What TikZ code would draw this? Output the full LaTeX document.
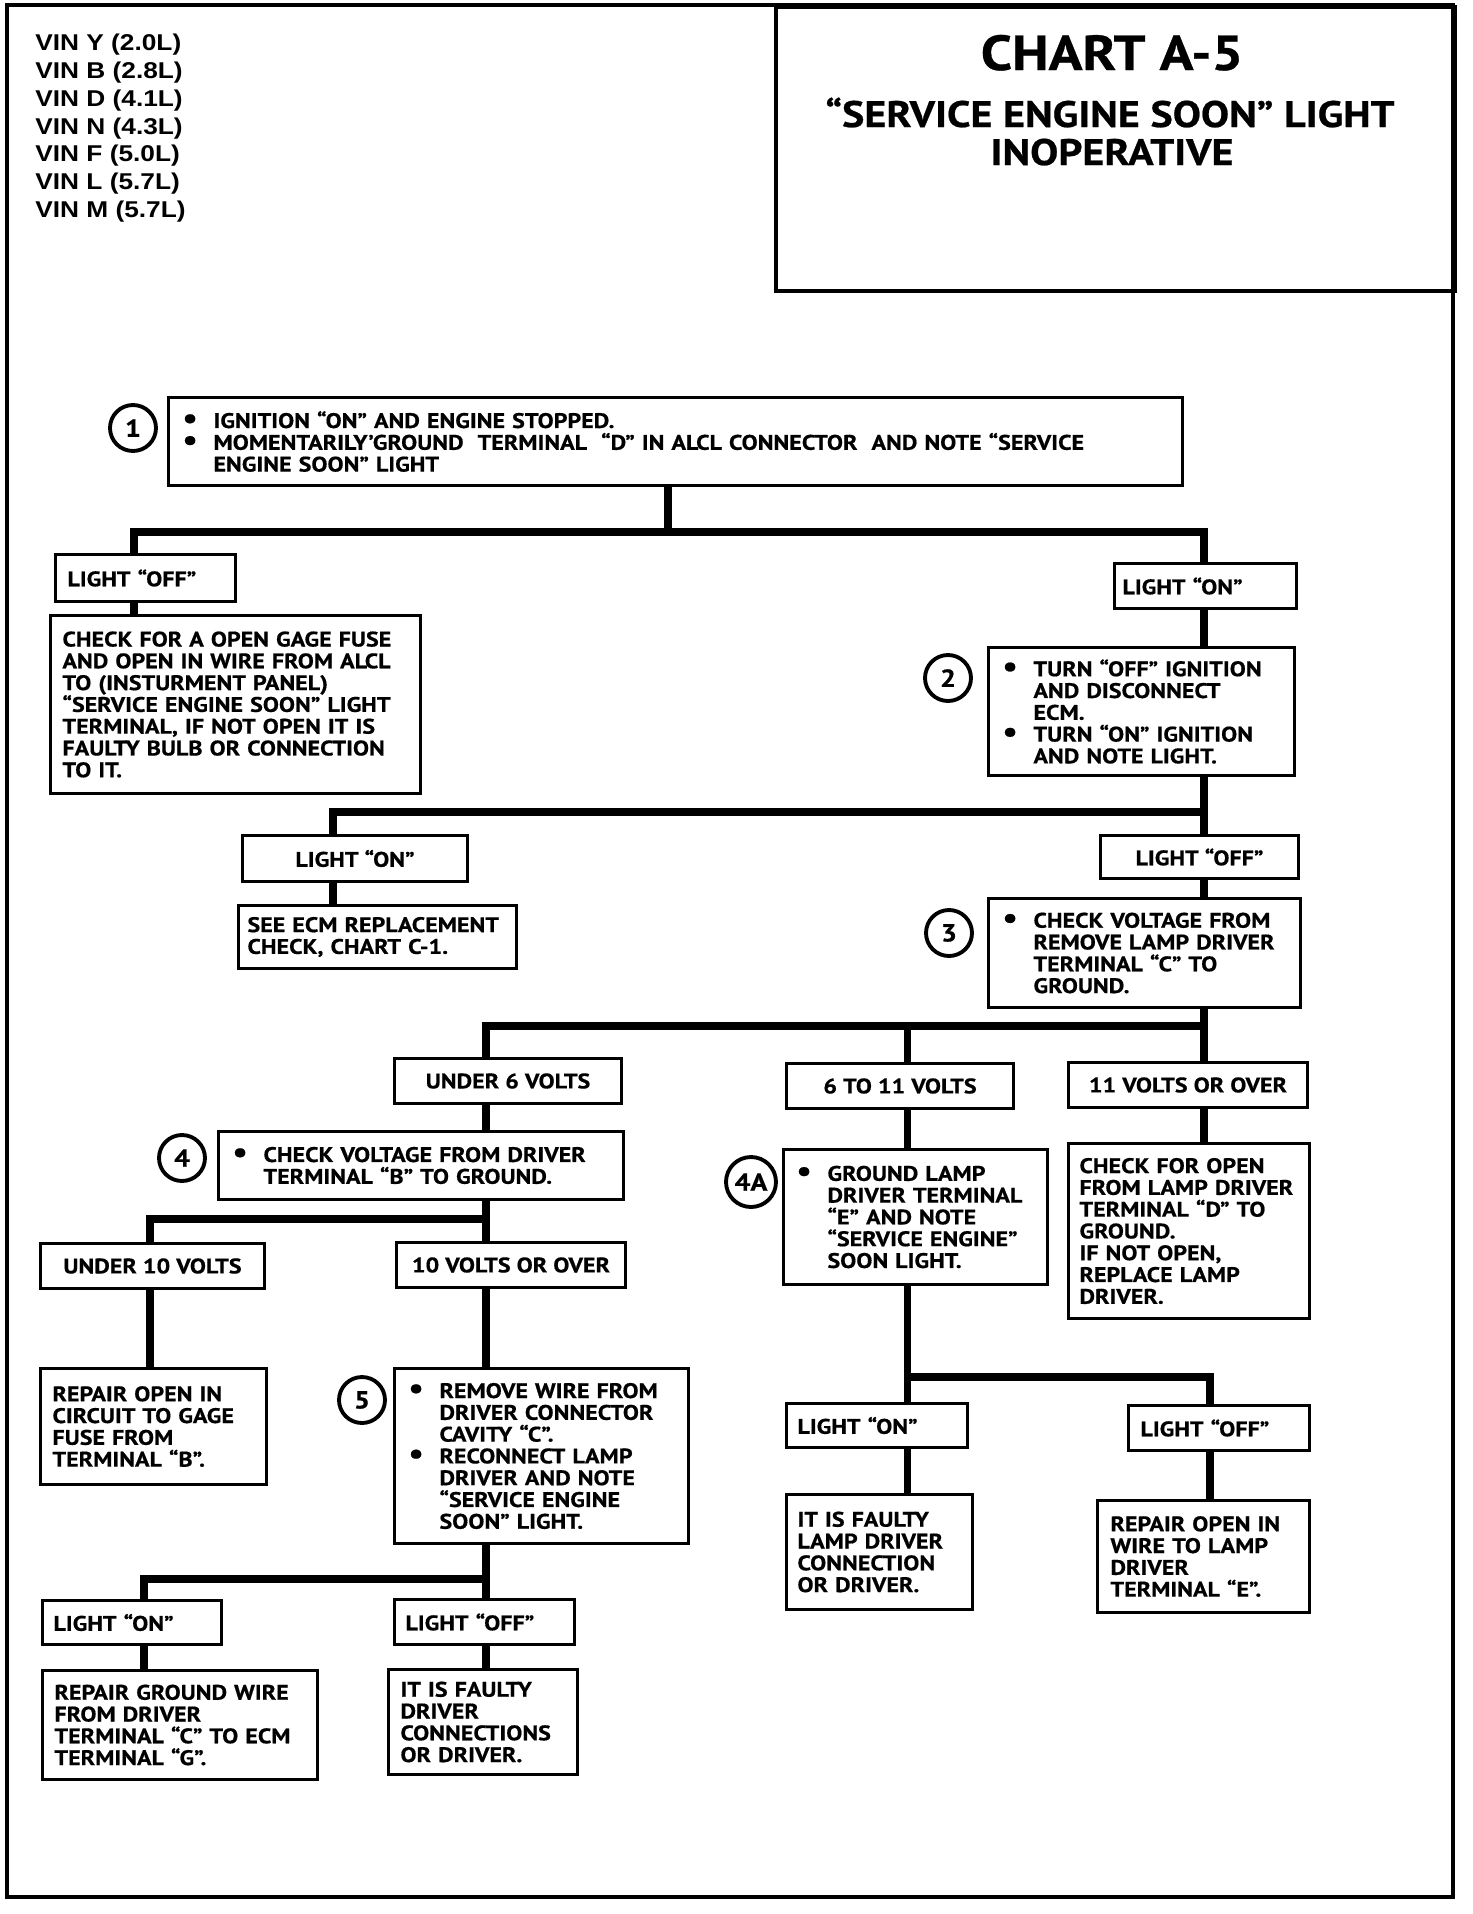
\documentclass[tikz,border=0pt]{standalone}
\usepackage{fontspec}
\usetikzlibrary{positioning}
\newfontfamily\chartfont{PT Sans}[FakeStretch=1.14, BoldFeatures={FakeBold=0.6}]
\newfontfamily\vinfont{Liberation Sans}[FakeStretch=1.15]
\newlength\pxu
\setlength\pxu{0.02cm}
\newcommand{\bul}{\makebox[31\pxu][l]{\scalebox{1.4}{\textbullet}}}
\newcommand{\ind}{\hspace*{31\pxu}}

\tikzset{
  chartbox/.style={draw, line width=1.7pt, anchor=north west, inner xsep=12\pxu, inner ysep=0pt,
    align=left, font=\chartfont\bfseries\fontsize{12}{12.4}\selectfont},
  bulletbox/.style={chartbox, inner xsep=14\pxu},
  casebox/.style={chartbox, align=center, inner xsep=0pt},
  stepnum/.style={draw, circle, line width=2.2pt, minimum size=46\pxu, inner sep=0pt,
    font=\chartfont\bfseries\fontsize{14}{14}\selectfont},
  link/.style={line width=4.5pt},
  frame/.style={line width=2.8pt}
}

\begin{document}
\begin{tikzpicture}[x=\pxu, y=-\pxu]
  \useasboundingbox (0,0) rectangle (1472,1914);

  % frame and title
  \draw[frame] (7,5) rectangle (1453,1897);
  \node[draw, line width=2.2pt, anchor=north west, minimum width=679\pxu, minimum height=284\pxu] (title_box) at (774,5) {};
  \node[anchor=base, font=\chartfont\bfseries\fontsize{28}{28}\selectfont] (title) at (1112,70) {CHART A-5};
  \node[anchor=base, font=\chartfont\bfseries\fontsize{21}{21}\selectfont] (subtitle) at (1110,127) {“SERVICE ENGINE SOON” LIGHT};
  \node[anchor=base, font=\chartfont\bfseries\fontsize{21}{21}\selectfont] (subtitle_b) at (1112,165) {INOPERATIVE};
  \node[anchor=north west, align=left, inner sep=0pt, font=\vinfont\bfseries\fontsize{13}{15.8}\selectfont] (vin) at (35,34)
    {VIN Y (2.0L)\\VIN B (2.8L)\\VIN D (4.1L)\\VIN N (4.3L)\\VIN F (5.0L)\\VIN L (5.7L)\\VIN M (5.7L)};

  % step 1
  \node[bulletbox, text width=986\pxu, minimum height=88\pxu] (ignition) at (167,396)
    {\bul IGNITION “ON” AND ENGINE STOPPED.\\
     \bul MOMENTARILY’GROUND\ \ TERMINAL\ \ “D” IN ALCL CONNECTOR\ \ AND NOTE “SERVICE\\
     \ind ENGINE SOON” LIGHT};
  \node[stepnum] (step_1) at (133,428) {1};

  \node[chartbox, text width=156\pxu, minimum height=47\pxu] (off_a) at (54,553) {LIGHT “OFF”};
  \node[chartbox, text width=346\pxu, minimum height=178\pxu] (gage_fuse) at (49,614)
    {CHECK FOR A OPEN GAGE FUSE\\AND OPEN IN WIRE FROM ALCL\\TO (INSTURMENT PANEL)\\“SERVICE ENGINE SOON” LIGHT\\TERMINAL, IF NOT OPEN IT IS\\FAULTY BULB OR CONNECTION\\TO IT.};
  \node[chartbox, inner xsep=8\pxu, text width=166\pxu, minimum height=45\pxu] (on_a) at (1113,562) {LIGHT “ON”};

  % step 2
  \node[bulletbox, text width=278\pxu, minimum height=128\pxu] (disconnect) at (987,646)
    {\bul TURN “OFF” IGNITION\\ \ind AND DISCONNECT\\ \ind ECM.\\
     \bul TURN “ON” IGNITION\\ \ind AND NOTE LIGHT.};
  \node[stepnum] (step_2) at (948,678) {2};

  \node[casebox, minimum width=225\pxu, minimum height=46\pxu] (on_b) at (241,834) {LIGHT “ON”};
  \node[chartbox, inner xsep=9\pxu, text width=260\pxu, minimum height=63\pxu] (ecm_check) at (237,904)
    {SEE ECM REPLACEMENT\\CHECK, CHART C-1.};
  \node[casebox, minimum width=198\pxu, minimum height=43\pxu] (off_b) at (1099,834) {LIGHT “OFF”};

  % step 3
  \node[bulletbox, text width=284\pxu, minimum height=109\pxu] (lamp_volt) at (987,897)
    {\bul CHECK VOLTAGE FROM\\ \ind REMOVE LAMP DRIVER\\ \ind TERMINAL “C” TO\\ \ind GROUND.};
  \node[stepnum] (step_3) at (949,933) {3};

  \node[casebox, minimum width=227\pxu, minimum height=45\pxu] (under_6) at (393,1057) {UNDER 6 VOLTS};
  \node[casebox, minimum width=227\pxu, minimum height=45\pxu] (six_11) at (785,1062) {6 TO 11 VOLTS};
  \node[casebox, minimum width=239\pxu, minimum height=45\pxu] (over_11) at (1067,1061) {11 VOLTS OR OVER};

  % step 4
  \node[bulletbox, text width=377\pxu, minimum height=68\pxu] (driver_volt) at (217,1130)
    {\bul CHECK VOLTAGE FROM DRIVER\\ \ind TERMINAL “B” TO GROUND.};
  \node[stepnum] (step_4) at (182,1158) {4};

  % step 4A
  \node[bulletbox, inner xsep=13\pxu, text width=238\pxu, minimum height=135\pxu] (ground_e) at (782,1148)
    {\bul GROUND LAMP\\ \ind DRIVER TERMINAL\\ \ind “E” AND NOTE\\ \ind “SERVICE ENGINE”\\ \ind SOON LIGHT.};
  \node[stepnum, minimum size=50\pxu] (step_4a) at (751,1182) {4A};

  \node[chartbox, inner xsep=11\pxu, text width=219\pxu, minimum height=175\pxu] (open_d) at (1067,1142)
    {CHECK FOR OPEN\\FROM LAMP DRIVER\\TERMINAL “D” TO\\GROUND.\\IF NOT OPEN,\\REPLACE LAMP\\DRIVER.};

  \node[casebox, minimum width=224\pxu, minimum height=45\pxu] (under_10) at (39,1242) {UNDER 10 VOLTS};
  \node[casebox, minimum width=229\pxu, minimum height=45\pxu] (over_10) at (395,1241) {10 VOLTS OR OVER};
  \node[chartbox, text width=202\pxu, minimum height=116\pxu] (gage_open) at (39,1367)
    {REPAIR OPEN IN\\CIRCUIT TO GAGE\\FUSE FROM\\TERMINAL “B”.};

  % step 5
  \node[bulletbox, text width=266\pxu, minimum height=175\pxu] (cavity) at (393,1367)
    {\bul REMOVE WIRE FROM\\ \ind DRIVER CONNECTOR\\ \ind CAVITY “C”.\\
     \bul RECONNECT LAMP\\ \ind DRIVER AND NOTE\\ \ind “SERVICE ENGINE\\ \ind SOON” LIGHT.};
  \node[stepnum] (step_5) at (362,1400) {5};

  \node[chartbox, inner xsep=11\pxu, text width=157\pxu, minimum height=44\pxu] (on_c) at (41,1599) {LIGHT “ON”};
  \node[chartbox, inner xsep=11\pxu, text width=158\pxu, minimum height=45\pxu] (off_c) at (393,1598) {LIGHT “OFF”};
  \node[chartbox, text width=251\pxu, minimum height=109\pxu] (ground_wire) at (41,1669)
    {REPAIR GROUND WIRE\\FROM DRIVER\\TERMINAL “C” TO ECM\\TERMINAL “G”.};
  \node[chartbox, text width=165\pxu, minimum height=105\pxu] (faulty_driver) at (387,1668)
    {IT IS FAULTY\\DRIVER\\CONNECTIONS\\OR DRIVER.};

  \node[chartbox, inner xsep=11\pxu, text width=159\pxu, minimum height=44\pxu] (on_d) at (785,1402) {LIGHT “ON”};
  \node[chartbox, text width=157\pxu, minimum height=45\pxu] (off_d) at (1127,1404) {LIGHT “OFF”};
  \node[chartbox, inner xsep=11\pxu, text width=164\pxu, minimum height=115\pxu] (faulty_lamp) at (785,1493)
    {IT IS FAULTY\\LAMP DRIVER\\CONNECTION\\OR DRIVER.};
  \node[chartbox, inner xsep=13\pxu, text width=186\pxu, minimum height=112\pxu] (wire_open) at (1096,1499)
    {REPAIR OPEN IN\\WIRE TO LAMP\\DRIVER\\TERMINAL “E”.};

  % bar ends
  \coordinate (bar_a) at (668,532);
  \coordinate (bar_a_w) at (134,532);
  \coordinate (bar_a_e) at (1204,532);
  \coordinate (bar_b_w) at (333,812);
  \coordinate (bar_b_e) at (1204,812);
  \coordinate (bar_c_w) at (486,1026);
  \coordinate (bar_c_m) at (907.5,1026);
  \coordinate (bar_c_e) at (1204,1026);
  \coordinate (bar_d_w) at (150,1219);
  \coordinate (bar_d_e) at (486,1219);
  \coordinate (bar_e_w) at (144,1579);
  \coordinate (bar_e_e) at (486,1579);
  \coordinate (bar_f_w) at (907.5,1377);
  \coordinate (bar_f_e) at (1210,1377);

  % paths step 1
  \draw[link] (ignition.south -| bar_a) -- (bar_a);
  \draw[link] (off_a.north -| bar_a_w) -- (bar_a_w) -- (bar_a_e) -- (on_a.north -| bar_a_e);
  \draw[link] (off_a.south -| bar_a_w) -- (gage_fuse.north -| bar_a_w);
  \draw[link] (on_a.south -| bar_a_e) -- (disconnect.north -| bar_a_e);

  % paths step 2
  \draw[link] (disconnect.south -| bar_b_e) -- (off_b.north -| bar_b_e);
  \draw[link] (on_b.north -| bar_b_w) -- (bar_b_w) -- (bar_b_e);
  \draw[link] (on_b.south -| bar_b_w) -- (ecm_check.north -| bar_b_w);
  \draw[link] (off_b.south -| bar_b_e) -- (lamp_volt.north -| bar_b_e);

  % paths step 3
  \draw[link] (lamp_volt.south -| bar_c_e) -- (over_11.north -| bar_c_e);
  \draw[link] (under_6.north -| bar_c_w) -- (bar_c_w) -- (bar_c_e);
  \draw[link] (bar_c_m) -- (six_11.north -| bar_c_m);
  \draw[link] (under_6.south -| bar_c_w) -- (driver_volt.north -| bar_c_w);
  \draw[link] (six_11.south -| bar_c_m) -- (ground_e.north -| bar_c_m);
  \draw[link] (over_11.south -| bar_c_e) -- (open_d.north -| bar_c_e);

  % paths step 4
  \draw[link] (driver_volt.south -| bar_d_e) -- (over_10.north -| bar_d_e);
  \draw[link] (under_10.north -| bar_d_w) -- (bar_d_w) -- (bar_d_e);
  \draw[link] (under_10.south -| bar_d_w) -- (gage_open.north -| bar_d_w);
  \draw[link] (over_10.south -| bar_d_e) -- (cavity.north -| bar_d_e);

  % paths step 5
  \draw[link] (cavity.south -| bar_e_e) -- (off_c.north -| bar_e_e);
  \draw[link] (on_c.north -| bar_e_w) -- (bar_e_w) -- (bar_e_e);
  \draw[link] (on_c.south -| bar_e_w) -- (ground_wire.north -| bar_e_w);
  \draw[link] (off_c.south -| bar_e_e) -- (faulty_driver.north -| bar_e_e);

  % paths step 4A
  \draw[link] (ground_e.south -| bar_f_w) -- (on_d.north -| bar_f_w);
  \draw[link] (bar_f_w) -- (bar_f_e) -- (off_d.north -| bar_f_e);
  \draw[link] (on_d.south -| bar_f_w) -- (faulty_lamp.north -| bar_f_w);
  \draw[link] (off_d.south -| bar_f_e) -- (wire_open.north -| bar_f_e);

\end{tikzpicture}
\end{document}
